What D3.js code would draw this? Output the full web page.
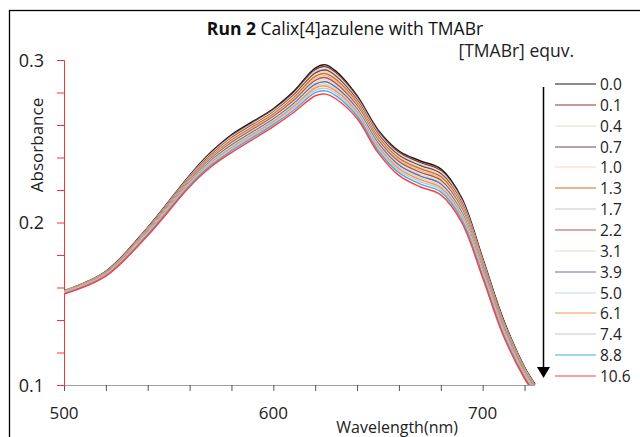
<!DOCTYPE html>
<html>
<head>
<meta charset="utf-8">
<script src="https://cdn.jsdelivr.net/npm/d3@7"></script>
<style>
  body { margin: 0; background: #fff; }
  svg { font-family: "Open Sans", "Noto Sans", sans-serif; }
</style>
</head>
<body>
<svg id="chart" width="640" height="437"></svg>
<script>
const wavelengths = [500, 520, 540, 560, 570, 580, 590, 600, 610, 620, 625, 630, 640, 650, 660, 670, 680, 690, 700, 710, 720, 725]

const equivalents = ["0.0", "0.1", "0.4", "0.7", "1.0", "1.3", "1.7", "2.2", "3.1", "3.9", "5.0", "6.1", "7.4", "8.8", "10.6"]

// one row per equivalent, same order as wavelengths
const absorbance = [
  [.1580, .1700, .1970, .2290, .2430, .2540, .2620, .2700, .2810, .2950, .2970, .2930, .2780, .2570, .2440, .2380, .2330, .2150, .1780, .1400, .1110, .1005],
  [.1579, .1698, .1967, .2286, .2425, .2533, .2613, .2693, .2802, .2940, .2959, .2920, .2772, .2562, .2431, .2370, .2320, .2141, .1773, .1394, .1106, .1001],
  [.1578, .1696, .1964, .2282, .2419, .2527, .2607, .2687, .2794, .2930, .2948, .2910, .2763, .2553, .2422, .2361, .2311, .2132, .1766, .1388, .1102, .0998],
  [.1576, .1695, .1961, .2277, .2414, .2520, .2600, .2680, .2787, .2919, .2938, .2899, .2755, .2545, .2413, .2351, .2301, .2123, .1758, .1382, .1097, .0994],
  [.1575, .1693, .1958, .2273, .2408, .2514, .2594, .2674, .2779, .2909, .2927, .2889, .2746, .2536, .2404, .2342, .2292, .2114, .1751, .1376, .1093, .0991],
  [.1574, .1691, .1955, .2269, .2403, .2507, .2587, .2667, .2771, .2899, .2916, .2879, .2738, .2528, .2395, .2332, .2282, .2105, .1744, .1370, .1089, .0987],
  [.1573, .1689, .1952, .2264, .2397, .2499, .2579, .2659, .2762, .2887, .2903, .2867, .2728, .2518, .2385, .2321, .2271, .2095, .1736, .1363, .1084, .0983],
  [.1571, .1687, .1948, .2259, .2390, .2492, .2572, .2652, .2753, .2875, .2891, .2855, .2718, .2508, .2374, .2310, .2260, .2084, .1727, .1356, .1079, .0979],
  [.1570, .1685, .1945, .2254, .2384, .2484, .2564, .2644, .2744, .2863, .2878, .2843, .2709, .2499, .2364, .2298, .2248, .2074, .1719, .1349, .1074, .0974],
  [.1568, .1683, .1941, .2249, .2378, .2476, .2556, .2636, .2735, .2851, .2866, .2831, .2699, .2489, .2353, .2287, .2237, .2063, .1710, .1342, .1069, .0970],
  [.1567, .1681, .1938, .2245, .2372, .2469, .2549, .2629, .2726, .2840, .2853, .2820, .2689, .2479, .2343, .2276, .2226, .2053, .1702, .1335, .1065, .0966],
  [.1566, .1678, .1934, .2240, .2365, .2461, .2541, .2621, .2716, .2828, .2840, .2808, .2679, .2469, .2332, .2265, .2215, .2042, .1694, .1328, .1060, .0962],
  [.1564, .1676, .1930, .2234, .2358, .2452, .2532, .2612, .2706, .2814, .2826, .2794, .2668, .2458, .2320, .2252, .2202, .2030, .1684, .1320, .1054, .0957],
  [.1562, .1673, .1926, .2228, .2350, .2442, .2522, .2602, .2694, .2799, .2810, .2779, .2655, .2445, .2307, .2238, .2188, .2017, .1673, .1311, .1048, .0952],
  [.1560, .1670, .1920, .2220, .2340, .2430, .2510, .2590, .2680, .2780, .2790, .2760, .2640, .2430, .2290, .2220, .2170, .2000, .1660, .1300, .1040, .0945],
]

const y_ticks = [0.1, 0.2, 0.3]
const x_ticks = [500, 600, 700]

const series_colors = ["#1a1a1a", "#953735", "#d7e4bd", "#604a7b", "#fcd5b5", "#e46c0a", "#c8c8c8", "#c0504d",
  "#d8e4bc", "#8064a2", "#b7dee8", "#f79646", "#ccc1da", "#46aedc", "#ff4040"]

const svg = d3.select("#chart")

const x = d3.scaleLinear().domain([500, 725]).range([64, 535])
const y = d3.scaleLinear().domain([0.1, 0.3]).range([385, 60])

// outer frame (runs off the right and bottom edges)
svg.append("rect")
  .attr("x", 9.5).attr("y", 10.5)
  .attr("width", 700).attr("height", 500)
  .attr("fill", "none")
  .attr("stroke", "#000")
  .attr("stroke-width", 1.3)

svg.append("clipPath").attr("id", "plot-clip")
  .append("rect")
  .attr("x", x(500)).attr("y", 0)
  .attr("width", x(725) - x(500) + 2).attr("height", y(0.1))

// x axis
const x_axis = svg.append("g")
  .attr("transform", `translate(0,${y(0.1)})`)
  .call(d3.axisBottom(x).tickValues(d3.range(500, 721, 20)).tickSize(6).tickFormat(""))
x_axis.select(".domain").attr("stroke", "#a0a0a0").attr("d", `M${x(500)},0.5H${x(725)}`)
x_axis.selectAll(".tick line").attr("stroke", "#555")

svg.append("g").selectAll("text")
  .data(x_ticks)
  .enter()
  .append("text")
  .attr("x", d => x(d))
  .attr("y", 419)
  .attr("text-anchor", "middle")
  .attr("font-size", 17)
  .attr("fill", "#222")
  .text(d => d)

// y axis
const y_axis = svg.append("g")
  .attr("transform", `translate(${x(500)},0)`)
  .call(d3.axisLeft(y).tickValues(d3.range(0.1, 0.3001, 0.02)).tickSize(7).tickFormat(""))
y_axis.select(".domain").attr("stroke", "#ff3030")
y_axis.selectAll(".tick line").attr("stroke", "#ff3030")

svg.append("g").selectAll("text")
  .data(y_ticks)
  .enter()
  .append("text")
  .attr("x", 44)
  .attr("y", d => y(d) + 6.5)
  .attr("text-anchor", "end")
  .attr("font-size", 18)
  .attr("fill", "#222")
  .text(d => d.toFixed(1))

// axis titles
svg.append("text")
  .attr("x", 458).attr("y", 433)
  .attr("text-anchor", "end")
  .attr("font-size", 16)
  .attr("fill", "#222")
  .text("Wavelength(nm)")

svg.append("text")
  .attr("transform", "translate(43,145) rotate(-90)")
  .attr("text-anchor", "middle")
  .attr("font-size", 17)
  .attr("fill", "#222")
  .text("Absorbance")

// title
const title = svg.append("text")
  .attr("x", 345).attr("y", 35)
  .attr("text-anchor", "middle")
  .attr("font-size", 17.5)
  .attr("fill", "#111")
title.append("tspan").attr("font-weight", "bold").text("Run 2")
title.append("tspan").text(" Calix[4]azulene with TMABr")

// spectra
const line = d3.line()
  .x((d, i) => x(wavelengths[i]))
  .y(d => y(d))
  .curve(d3.curveCatmullRom.alpha(0.5))

svg.append("g")
  .attr("clip-path", "url(#plot-clip)")
  .selectAll("path")
  .data(absorbance)
  .enter()
  .append("path")
  .attr("d", line)
  .attr("fill", "none")
  .attr("stroke", (d, i) => series_colors[i])
  .attr("stroke-width", 1.5)

// legend
svg.append("text")
  .attr("x", 574).attr("y", 57)
  .attr("text-anchor", "end")
  .attr("font-size", 17.5)
  .attr("fill", "#222")
  .text("[TMABr] equv.")

const legend_y = d3.scaleLinear().domain([0, 14]).range([84, 376])

const legend = svg.append("g").selectAll("g")
  .data(equivalents)
  .enter()
  .append("g")
  .attr("transform", (d, i) => `translate(0,${Math.round(legend_y(i))})`)

legend.append("line")
  .attr("x1", 555).attr("x2", 596)
  .attr("stroke", (d, i) => series_colors[i])
  .attr("stroke-width", 1.2)

legend.append("text")
  .attr("x", 600)
  .attr("y", 5.5)
  .attr("font-size", 15.5)
  .attr("fill", "#222")
  .text(d => d)

// arrow showing the direction of increasing equivalents
svg.append("line")
  .attr("x1", 543.5).attr("x2", 543.5)
  .attr("y1", 87).attr("y2", 368)
  .attr("stroke", "#000")
  .attr("stroke-width", 1.5)

svg.append("path")
  .attr("d", "M537,367L550,367L543.5,378Z")
  .attr("fill", "#000")
</script>
</body>
</html>
